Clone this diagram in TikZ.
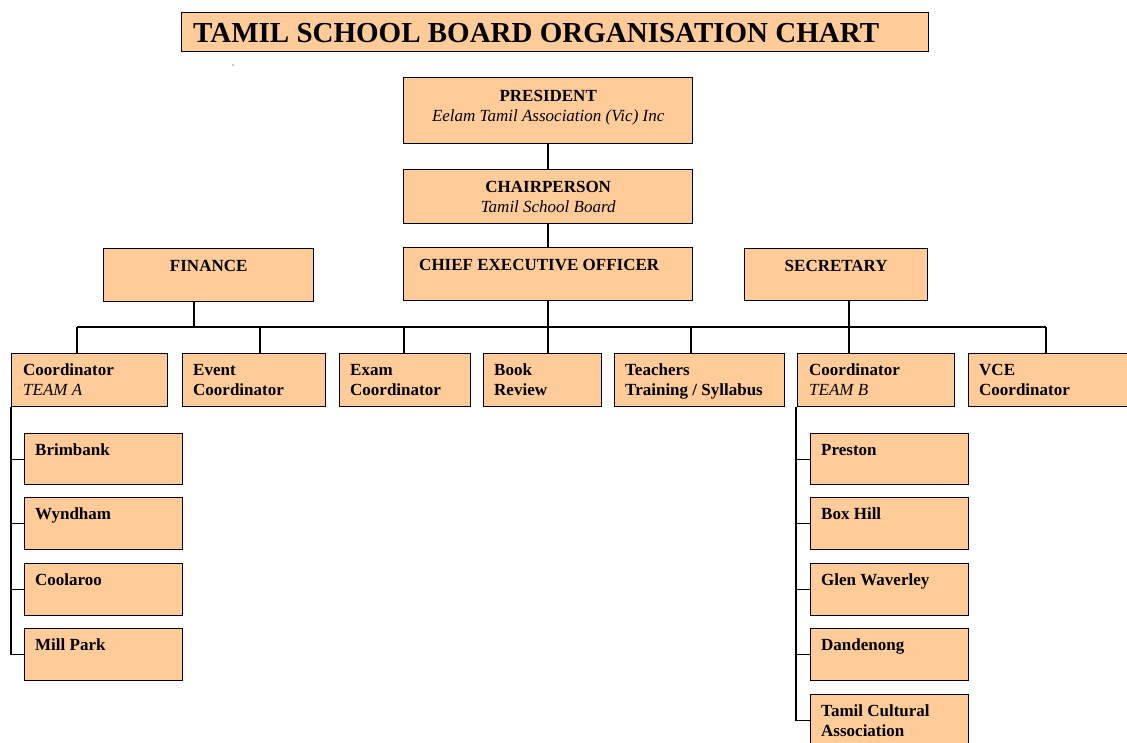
\documentclass[tikz,border=0pt]{standalone}
\usepackage{fontspec}
\setmainfont{Liberation Serif}
\definecolor{peach}{HTML}{FFCC99}
\newcommand\stt{\rule{0pt}{12pt}}
\newcommand\sttt{\rule{0pt}{20pt}}
\tikzset{
  box/.style={draw=black, line width=1.4pt, fill=peach, inner sep=0pt, anchor=north west},
  conn/.style={draw=black, line width=1.3pt},
  lbl/.style={inner sep=0pt, font=\fontsize{17}{20}\selectfont\bfseries, align=left, anchor=north west, xshift=11pt, yshift=-10.5pt},
  clbl/.style={inner sep=0pt, font=\fontsize{17}{20}\selectfont\bfseries, align=center, anchor=north, yshift=-11pt},
  tlbl/.style={inner sep=0pt, font=\fontsize{29}{32}\selectfont\bfseries, align=left, anchor=north west, xshift=12pt, yshift=-10pt},
}
\newcommand\mkbox[6]{\node[box, minimum width={(#4-#2)*1pt}, minimum height={(#5-#3)*1pt}, #6] (#1) at (#2,#3) {};}
\begin{document}
\begin{tikzpicture}[x=1pt,y=-1pt]
\useasboundingbox (0,0) rectangle (1127,742);
\clip (0,0) rectangle (1127,742);
% title
\mkbox{title}{181}{12}{928}{51}{label={[tlbl]north west:{\sttt TAMIL SCHOOL BOARD ORGANISATION CHART}}}
\fill (233,65) circle (0.7);
% top chain
\mkbox{pres}{403}{77}{692}{143}{label={[clbl,yshift=-1pt]north:{\stt PRESIDENT\\\mdseries\itshape Eelam Tamil Association (Vic) Inc}}}
\mkbox{chair}{403}{169}{692}{223}{label={[clbl]north:{\stt CHAIRPERSON\\\mdseries\itshape Tamil School Board}}}
\mkbox{ceo}{403}{247}{692}{300}{label={[clbl,xshift=-9pt]north:{\stt CHIEF EXECUTIVE OFFICER}}}
\mkbox{fin}{103}{248}{313}{301}{label={[clbl]north:{\stt FINANCE}}}
\mkbox{sec}{744}{248}{927}{300}{label={[clbl]north:{\stt SECRETARY}}}
% second level
\mkbox{coA}{11}{353}{167}{406}{label={[lbl,xshift=1pt]north west:{\stt Coordinator\\\mdseries\itshape TEAM A}}}
\mkbox{ev}{182}{353}{325}{406}{label={[lbl]north west:{\stt Event\\Coordinator}}}
\mkbox{ex}{339}{353}{470}{406}{label={[lbl]north west:{\stt Exam\\Coordinator}}}
\mkbox{book}{483}{353}{601}{406}{label={[lbl]north west:{\stt Book\\Review}}}
\mkbox{teach}{614}{353}{784}{406}{label={[lbl]north west:{\stt Teachers\\Training / Syllabus}}}
\mkbox{coB}{797}{353}{954}{406}{label={[lbl,xshift=1pt]north west:{\stt Coordinator\\\mdseries\itshape TEAM B}}}
\mkbox{vce}{968}{353}{1135}{406}{label={[lbl]north west:{\stt VCE\\Coordinator}}}
% team A schools
\mkbox{brim}{24}{433}{182}{484}{label={[lbl]north west:{\stt Brimbank}}}
\mkbox{wynd}{24}{497}{182}{549}{label={[lbl]north west:{\stt Wyndham}}}
\mkbox{cool}{24}{563}{182}{615}{label={[lbl]north west:{\stt Coolaroo}}}
\mkbox{mill}{24}{628}{182}{680}{label={[lbl]north west:{\stt Mill Park}}}
% team B schools
\mkbox{prest}{810}{433}{968}{484}{label={[lbl]north west:{\stt Preston}}}
\mkbox{boxh}{810}{497}{968}{549}{label={[lbl]north west:{\stt Box Hill}}}
\mkbox{glen}{810}{563}{968}{615}{label={[lbl]north west:{\stt Glen Waverley}}}
\mkbox{dand}{810}{628}{968}{680}{label={[lbl]north west:{\stt Dandenong}}}
\mkbox{tca}{810}{694}{968}{746}{label={[lbl]north west:{\stt Tamil Cultural\\Association}}}
% junction coordinates on the bus
\coordinate (jA) at (77,327);
\coordinate (jF) at (194,327);
\coordinate (jE) at (260,327);
\coordinate (jX) at (404,327);
\coordinate (jB) at (548,327);
\coordinate (jT) at (691,327);
\coordinate (jC) at (849,327);
\coordinate (jV) at (1046,327);
% connectors
\draw[conn] (pres.south -| jB) -- (chair.north -| jB);
\draw[conn] (chair.south -| jB) -- (ceo.north -| jB);
\draw[conn] (ceo.south -| jB) -- (book.north -| jB);
\draw[conn] (fin.south -| jF) -- (jF);
\draw[conn] (sec.south -| jC) -- (coB.north -| jC);
\draw[conn] (jA) -- (jV);
\draw[conn] (jA) -- (coA.north -| jA);
\draw[conn] (jE) -- (ev.north -| jE);
\draw[conn] (jX) -- (ex.north -| jX);
\draw[conn] (jT) -- (teach.north -| jT);
\draw[conn] (jV) -- (vce.north -| jV);
% team A spine
\draw[conn] (coA.south west) |- (mill.west);
\draw[conn] (coA.south west |- brim.west) -- (brim.west);
\draw[conn] (coA.south west |- wynd.west) -- (wynd.west);
\draw[conn] (coA.south west |- cool.west) -- (cool.west);
% team B spine
\draw[conn] ([xshift=-1pt]coB.south west) |- (tca.west);
\draw[conn] ([xshift=-1pt]coB.south west |- prest.west) -- (prest.west);
\draw[conn] ([xshift=-1pt]coB.south west |- boxh.west) -- (boxh.west);
\draw[conn] ([xshift=-1pt]coB.south west |- glen.west) -- (glen.west);
\draw[conn] ([xshift=-1pt]coB.south west |- dand.west) -- (dand.west);
\end{tikzpicture}
\end{document}
